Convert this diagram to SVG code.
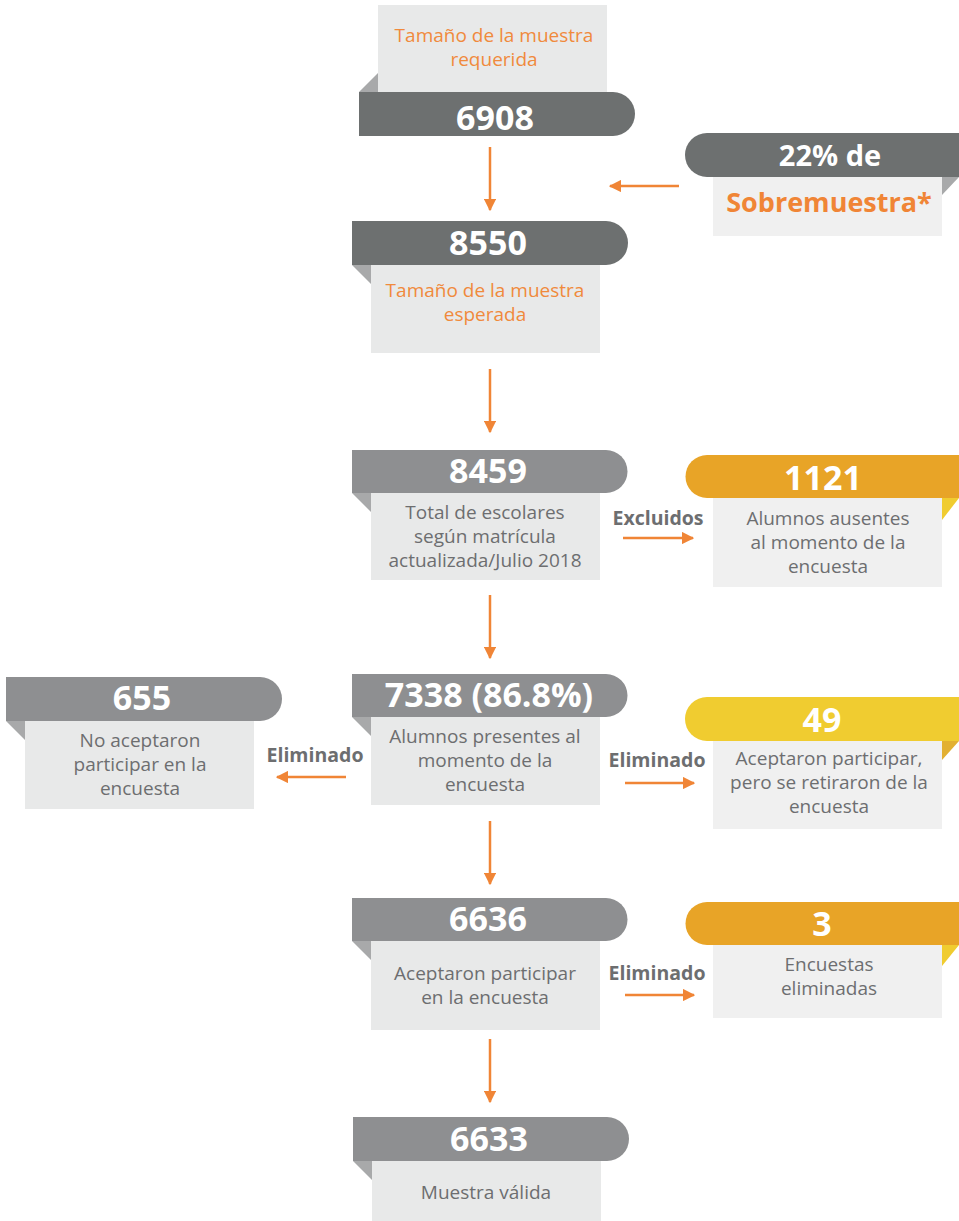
<svg xmlns="http://www.w3.org/2000/svg" width="959" height="1221" viewBox="0 0 959 1221">
<style>
.box{fill:#e8e9e9}
.boxr{fill:#f0f0f0}
.fold{fill:#a8a9aa}
.dark{fill:#6d7070}
.mid{fill:#8e8f91}
.gold{fill:#e8a427}
.yel{fill:#f0cc30}
.num{font-family:"Open Sans","Noto Sans",sans-serif;font-weight:bold;font-size:34px;fill:#ffffff;text-anchor:middle}
.t{font-family:"Open Sans","Noto Sans",sans-serif;font-size:19px;fill:#6d6e70;text-anchor:middle}
.to{font-family:"Open Sans","Noto Sans",sans-serif;font-size:19px;fill:#f08a3c;text-anchor:middle}
.lb{font-family:"Open Sans","Noto Sans",sans-serif;font-weight:bold;font-size:19.5px;fill:#6d6e70;text-anchor:middle}
.ln{stroke:#f08536;stroke-width:2.5;fill:none;marker-end:url(#ah)}
</style>
<defs>
<marker id="ah" viewBox="0 0 10 10" refX="9" refY="5" markerWidth="5" markerHeight="5" markerUnits="strokeWidth" orient="auto">
<path d="M0,0 L10,5 L0,10 Z" fill="#f08536"/>
</marker>
</defs>
<rect width="959" height="1221" fill="#ffffff"/>

<g id="connectors">
<line class="ln" x1="490" y1="147" x2="490" y2="210"/>
<line class="ln" x1="679" y1="186" x2="610" y2="186"/>
<line class="ln" x1="490" y1="369" x2="490" y2="432"/>
<line class="ln" x1="623" y1="538" x2="693" y2="538"/>
<line class="ln" x1="490" y1="595" x2="490" y2="658"/>
<line class="ln" x1="346" y1="777" x2="277" y2="777"/>
<line class="ln" x1="625" y1="783" x2="694" y2="783"/>
<line class="ln" x1="490" y1="821" x2="490" y2="884"/>
<line class="ln" x1="625" y1="995" x2="694" y2="995"/>
<line class="ln" x1="490" y1="1039" x2="490" y2="1102"/>
<text class="lb" x="658" y="525">Excluidos</text>
<text class="lb" x="315" y="762">Eliminado</text>
<text class="lb" x="657" y="767">Eliminado</text>
<text class="lb" x="657" y="980">Eliminado</text>
</g>

<g id="n6908">
<rect class="box" x="378" y="5" width="229" height="88"/>
<path class="fold" d="M359,92 L378,73 L378,92 Z"/>
<path class="dark" d="M359,92 H613 A22,22 0 0 1 613,136 H359 Z"/>
<text class="to" x="494" y="42">Tamaño de la muestra</text>
<text class="to" x="494" y="66">requerida</text>
<text class="num" x="495" y="130">6908</text>
</g>

<g id="nSobre">
<rect class="boxr" x="713" y="177" width="229" height="59"/>
<path class="fold" d="M942,177 H959 L942,195 Z"/>
<path class="dark" d="M707,133 H959 V177 H707 A22,22 0 0 1 707,133 Z"/>
<text class="num" x="830" y="166" style="font-size:29px">22% de</text>
<text class="num" x="829" y="212" style="font-size:27px;fill:#f08536">Sobremuestra*</text>
</g>

<g id="n8550">
<rect class="box" x="371" y="265" width="229" height="88"/>
<path class="fold" d="M352,265 H371 V284 Z"/>
<path class="dark" d="M352,221 H606 A22,22 0 0 1 606,265 H352 Z"/>
<text class="num" x="488" y="255">8550</text>
<text class="to" x="485" y="297">Tamaño de la muestra</text>
<text class="to" x="485" y="321">esperada</text>
</g>

<g id="n8459">
<rect class="box" x="371" y="493" width="229" height="87"/>
<path class="fold" d="M352,493 H371 V512 Z"/>
<path class="mid" d="M352,450 H606 A21.5,21.5 0 0 1 606,493 H352 Z"/>
<text class="num" x="488" y="483">8459</text>
<text class="t" x="485" y="519">Total de escolares</text>
<text class="t" x="485" y="543">según matrícula</text>
<text class="t" x="485" y="567">actualizada/Julio 2018</text>
</g>

<g id="n1121">
<rect class="boxr" x="713" y="498" width="229" height="89"/>
<path class="yel" d="M942,498 H959 L942,520 Z"/>
<path class="gold" d="M707,455 H959 V498 H707 A21.5,21.5 0 0 1 707,455 Z"/>
<text class="num" x="823" y="490">1121</text>
<text class="t" x="828" y="525">Alumnos ausentes</text>
<text class="t" x="828" y="549">al momento de la</text>
<text class="t" x="828" y="573">encuesta</text>
</g>

<g id="n655">
<rect class="box" x="25" y="721" width="229" height="88"/>
<path class="fold" d="M6,721 H25 V740 Z"/>
<path class="mid" d="M6,677 H260 A22,22 0 0 1 260,721 H6 Z"/>
<text class="num" x="142" y="710">655</text>
<text class="t" x="140" y="747">No aceptaron</text>
<text class="t" x="140" y="771">participar en la</text>
<text class="t" x="140" y="795">encuesta</text>
</g>

<g id="n7338">
<rect class="box" x="371" y="717" width="229" height="88"/>
<path class="fold" d="M352,717 H371 V736 Z"/>
<path class="mid" d="M352,674 H606 A21.5,21.5 0 0 1 606,717 H352 Z"/>
<text class="num" x="489" y="707">7338 (86.8%)</text>
<text class="t" x="485" y="743">Alumnos presentes al</text>
<text class="t" x="485" y="767">momento de la</text>
<text class="t" x="485" y="791">encuesta</text>
</g>

<g id="n49">
<rect class="boxr" x="713" y="741" width="229" height="88"/>
<path d="M942,741 H959 L942,760 Z" fill="#e2b032"/>
<path class="yel" d="M707,697 H959 V741 H707 A22,22 0 0 1 707,697 Z"/>
<text class="num" x="822" y="732">49</text>
<text class="t" x="829" y="765">Aceptaron participar,</text>
<text class="t" x="829" y="789">pero se retiraron de la</text>
<text class="t" x="829" y="813">encuesta</text>
</g>

<g id="n6636">
<rect class="box" x="371" y="941" width="229" height="89"/>
<path class="fold" d="M352,941 H371 V960 Z"/>
<path class="mid" d="M352,898 H606 A21.5,21.5 0 0 1 606,941 H352 Z"/>
<text class="num" x="488" y="931">6636</text>
<text class="t" x="485" y="980">Aceptaron participar</text>
<text class="t" x="485" y="1004">en la encuesta</text>
</g>

<g id="n3">
<rect class="boxr" x="713" y="945" width="229" height="73"/>
<path class="yel" d="M942,945 H959 L942,966 Z"/>
<path class="gold" d="M707,902 H959 V945 H707 A21.5,21.5 0 0 1 707,902 Z"/>
<text class="num" x="822" y="936">3</text>
<text class="t" x="829" y="971">Encuestas</text>
<text class="t" x="829" y="995">eliminadas</text>
</g>

<g id="n6633">
<rect class="box" x="372" y="1161" width="229" height="60"/>
<path class="fold" d="M353,1161 H372 V1180 Z"/>
<path class="mid" d="M353,1117 H607 A22,22 0 0 1 607,1161 H353 Z"/>
<text class="num" x="489" y="1151">6633</text>
<text class="t" x="486" y="1199">Muestra válida</text>
</g>
</svg>
